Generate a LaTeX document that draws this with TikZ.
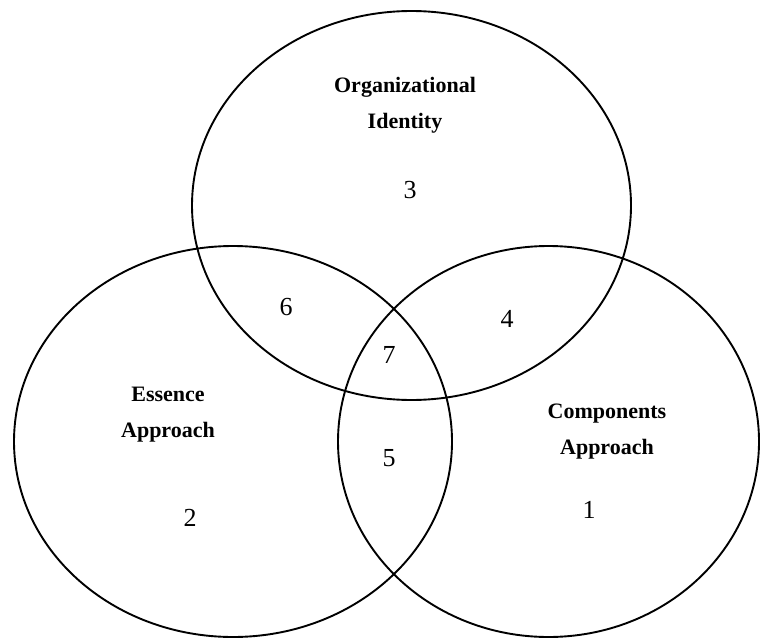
\documentclass[tikz,border=0pt]{standalone}
\usepackage{fontspec}
\setmainfont{Liberation Serif}
\usetikzlibrary{positioning}
\tikzset{
  setline/.style={draw=black, line width=1.9pt},
  setname/.style={font=\fontsize{22}{36}\selectfont\bfseries, align=center, inner sep=0pt},
  region/.style={font=\fontsize{26}{30}\selectfont, inner sep=0pt}
}
\begin{document}
\begin{tikzpicture}[x=1pt, y=-1pt]
\useasboundingbox (0,0) rectangle (762,639);
% the three sets
\draw[setline] (411.5,205.5) ellipse [x radius=219.5, y radius=194.5];
\draw[setline] (233,441.5) ellipse [x radius=219, y radius=195.5];
\draw[setline] (548.5,441.5) ellipse [x radius=210.5, y radius=195.5];
% set names
\node[setname] (org) at (405,105) {Organizational\\Identity};
\node[setname] (ess) at (168,415) {Essence\\Approach};
\node[setname] (comp) at (607,432) {Components\\Approach};
% region numbers
\node[region] (r3) at (410,190) {3};
\node[region] (r2) at (190,518) {2};
\node[region] (r1) at (589,510) {1};
\node[region] (r6) at (286,307) {6};
\node[region] (r4) at (507,319) {4};
\node[region] (r7) at (389,355) {7};
\node[region] (r5) at (389,458) {5};
\end{tikzpicture}
\end{document}
